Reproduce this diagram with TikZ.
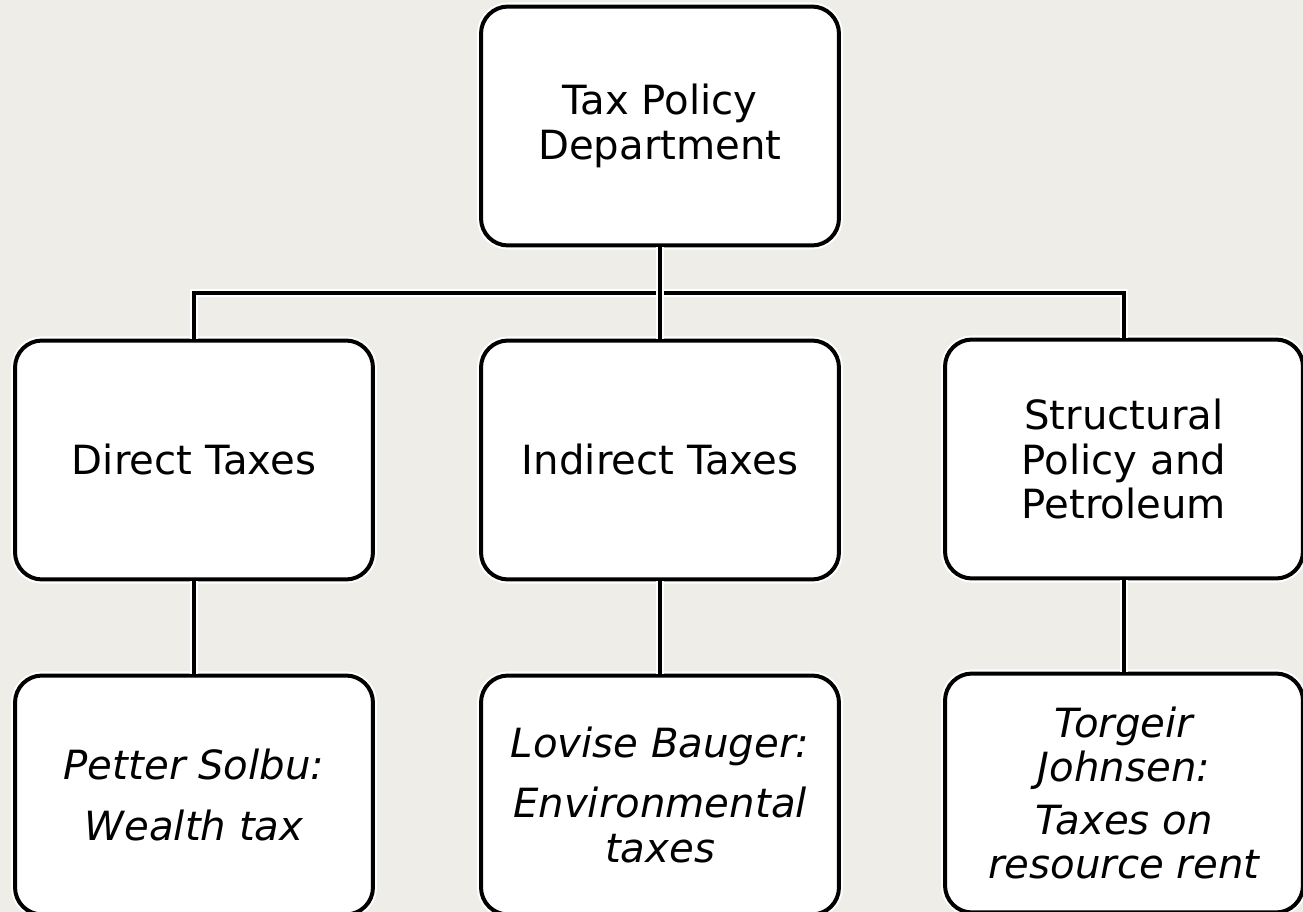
\documentclass[tikz,border=0pt]{standalone}
\usepackage{fontspec}
\setmainfont{DejaVu Sans}
\usepackage{xcolor}
\definecolor{paper}{HTML}{EEEDE7}

\begin{document}
\begin{tikzpicture}[x=0.02cm,y=-0.02cm,
  box/.style={draw=black, fill=white, line width=2.27pt, rounded corners=0.54cm,
    preaction={draw=white, line width=4.6pt},
    minimum width=7.16cm, minimum height=4.78cm, align=center,
    font=\fontsize{22.9}{25.6}\selectfont},
  who/.style={box, font=\fontsize{22.9}{25.6}\selectfont\itshape},
  link/.style={draw=black, line width=1.9pt, preaction={draw=white, line width=4.2pt}}]
 \fill[paper] (0,0) rectangle (1303,912);
 \useasboundingbox (0,0) rectangle (1303,912);

 \node[box] (dept) at (660,126) {Tax Policy\\Department};

 \node[box] (direct) at (194,460) {Direct Taxes};
 \node[box] (indirect) at (660,460) {Indirect Taxes};
 \node[box] (struct) at (1124,459) {Structural\\Policy and\\Petroleum};

 \node[who] (solbu) at (194,795) {Petter Solbu:\\[9pt]Wealth tax};
 \node[who] (bauger) at (660,795) {Lovise Bauger:\\[8pt]Environmental\\taxes};
 \node[who] (johnsen) at (1124,793) {Torgeir\\Johnsen:\\[4pt]Taxes on\\resource rent};

 %%%%%%%%%%%%%%%%%%%%%%%%%%%%%%%%%%%

 \coordinate (bus) at (660,293);
 \draw[link] (direct.north) |- (bus) -| (struct.north);
 \draw[link] (dept) -- (indirect);

 \draw[link] (direct) -- (solbu);
 \draw[link] (indirect) -- (bauger);
 \draw[link] (struct) -- (johnsen);
\end{tikzpicture}
\end{document}
